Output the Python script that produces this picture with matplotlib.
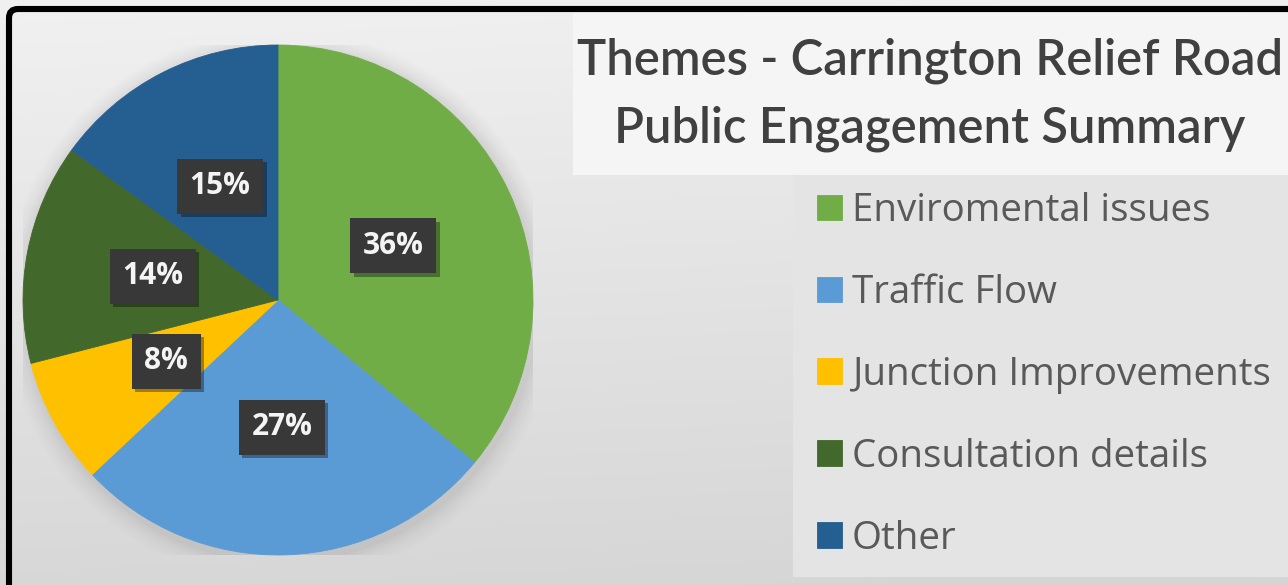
import numpy as np
import matplotlib
matplotlib.use("Agg")
import matplotlib.pyplot as plt
from matplotlib.patches import Rectangle, FancyBboxPatch, Circle
import matplotlib.patheffects as pe

# ---- data ----
categories = ["Enviromental issues", "Traffic Flow", "Junction Improvements",
              "Consultation details", "Other"]
values = [36, 27, 8, 14, 15]
colors = ["#70AD47", "#5B9BD5", "#FFC000", "#43682B", "#255E91"]
title_lines = ["Themes - Carrington Relief Road", "Public Engagement Summary"]

W, H, DPI = 1288, 585, 100
fig = plt.figure(figsize=(W / DPI, H / DPI), dpi=DPI, facecolor="white")
renderer = fig.canvas.get_renderer()


def fit_size(text, target_px, **kw):
    t = fig.text(0, 0, text, fontsize=20, **kw)
    w = t.get_window_extent(renderer).width
    t.remove()
    return 20 * target_px / w


# ---- background ----
bg = fig.add_axes([0, 0, 1, 1], zorder=-10)
bg.set_axis_off()
yy = np.linspace(0, 1, 300)[:, None]
xx = np.linspace(0, 1, 300)[None, :]
grad = 0.945 - 0.10 * yy - 0.01 * xx
bg.imshow(np.dstack([grad] * 3), extent=[0, 1, 0, 1], aspect="auto",
          interpolation="bilinear")
bg.set_xlim(0, 1)
bg.set_ylim(0, 1)

# title panel
fig.patches.append(Rectangle((573 / W, 1 - 175 / H), 1, 162 / H,
                             transform=fig.transFigure, fc="#F5F5F5", ec="none", zorder=-5))
# legend panel
fig.patches.append(Rectangle((793 / W, 1 - 577 / H), 1, 402 / H,
                             transform=fig.transFigure, fc="#E4E4E4", ec="none", zorder=-5))

# black border (top and left only visible)
fig.patches.append(FancyBboxPatch((0.09, -1), 20, 5.85 - 0.09 + 1,
                                  boxstyle="round,pad=0,rounding_size=0.09",
                                  transform=fig.dpi_scale_trans, fc="none",
                                  ec="black", lw=4.4, zorder=5))

# ---- pie ----
ax = fig.add_axes([23 / W, 30 / H, 510 / W, 510 / H])
# soft shadow
for i, a in enumerate(np.linspace(0.05, 0.012, 7)):
    ax.add_patch(Circle((0.01, -0.02), 1.0 + 0.012 * (i + 1), fc="#808080",
                        ec="none", alpha=a, zorder=0))
wedges, texts, autotexts = ax.pie(
    values, colors=colors, startangle=90, counterclock=False,
    autopct=lambda p: f"{p:.0f}%", pctdistance=0.5,
    wedgeprops=dict(linewidth=0),
    textprops=dict(color="white", fontsize=21.5, fontweight="bold",
                   family=["Open Sans", "DejaVu Sans"]))
for w, c in zip(wedges, colors):
    w.set_zorder(2)
    w.set_edgecolor(c)
    w.set_linewidth(0.6)
for t in autotexts:
    t.set_zorder(4)
    t.set_color("#F4F4F4")
    t.set_bbox(dict(boxstyle="square,pad=0.42", fc="#383838", ec="none"))
    t.get_bbox_patch().set_path_effects(
        [pe.SimplePatchShadow(offset=(2.5, -2.5), shadow_rgbFace="#000000", alpha=0.35),
         pe.Normal()])
ax.set_xlim(-1.0, 1.0)
ax.set_ylim(-1.0, 1.0)
ax.set_aspect("equal")
ax.set_axis_off()

# ---- title ----
tkw = dict(family=["Lato", "DejaVu Sans"], fontweight="semibold")
tfs = fit_size(title_lines[0], 705, **tkw)
fig.text(930 / W, 1 - 75 / H, title_lines[0], fontsize=tfs, ha="center", va="baseline",
         color="#404040", **tkw)
fig.text(930 / W, 1 - 143 / H, title_lines[1], fontsize=tfs, ha="center", va="baseline",
         color="#404040", **tkw)

# ---- legend ----
lfs = fit_size("Junction Improvements", 418, family=["Open Sans", "DejaVu Sans"])
lfs_px = lfs * DPI / 72
leg = fig.legend(wedges, categories, loc="upper left",
                 bbox_to_anchor=(817 / W, 1 - 192 / H), bbox_transform=fig.transFigure,
                 frameon=False, borderpad=0, borderaxespad=0,
                 handlelength=25 / lfs_px, handleheight=25 / lfs_px,
                 handletextpad=10 / lfs_px, labelspacing=1.14,
                 prop=dict(family=["Open Sans", "DejaVu Sans"], size=lfs))
for t in leg.get_texts():
    t.set_color("#595959")

fig.savefig("out.png", dpi=DPI, facecolor="white")
